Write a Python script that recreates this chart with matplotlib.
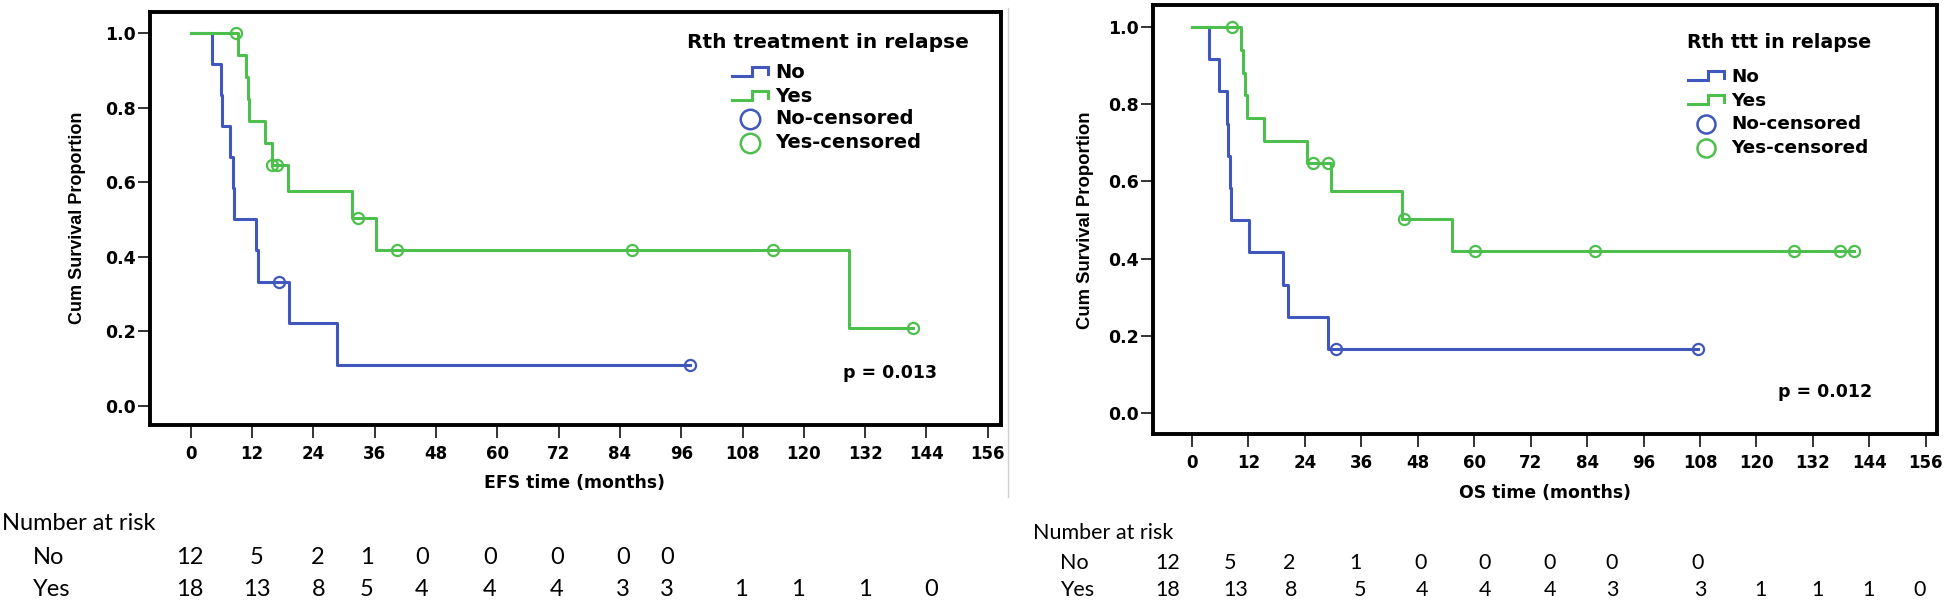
import matplotlib
matplotlib.use('Agg')
import matplotlib.pyplot as plt

# Kaplan-Meier steps (months, cumulative survival)
efs_no_t = [0, 4.1, 5.9, 6.0, 7.7, 8.2, 8.5, 12.7, 13.1, 19.3, 28.6, 97.7]
efs_no_s = [1.0, 0.917, 0.833, 0.75, 0.667, 0.583, 0.5, 0.417, 0.333, 0.222, 0.111, 0.111]
efs_no_cens_t = [17.3, 97.7]
efs_no_cens_s = [0.333, 0.111]

efs_yes_t = [0, 9.2, 10.8, 11.1, 11.3, 14.5, 15.8, 19.0, 31.5, 36.2, 128.8, 141.3]
efs_yes_s = [1.0, 0.941, 0.882, 0.824, 0.765, 0.706, 0.647, 0.575, 0.503, 0.419, 0.21, 0.21]
efs_yes_cens_t = [8.8, 15.9, 16.8, 32.8, 40.3, 86.3, 113.9, 141.3]
efs_yes_cens_s = [1.0, 0.647, 0.647, 0.503, 0.419, 0.419, 0.419, 0.21]

os_no_t = [0, 3.6, 5.7, 7.4, 7.7, 8.1, 8.2, 12.1, 19.3, 20.4, 28.9, 107.5]
os_no_s = [1.0, 0.917, 0.833, 0.75, 0.667, 0.583, 0.5, 0.417, 0.333, 0.25, 0.167, 0.167]
os_no_cens_t = [30.6, 107.5]
os_no_cens_s = [0.167, 0.167]

os_yes_t = [0, 10.4, 10.8, 11.2, 11.6, 15.3, 24.5, 29.5, 44.7, 55.3, 140.7]
os_yes_s = [1.0, 0.941, 0.882, 0.824, 0.765, 0.706, 0.647, 0.575, 0.503, 0.419, 0.419]
os_yes_cens_t = [8.5, 25.8, 29.0, 45.0, 60.1, 85.6, 128.1, 137.7, 140.7]
os_yes_cens_s = [1.0, 0.647, 0.647, 0.503, 0.419, 0.419, 0.419, 0.419, 0.419]

efs_risk_no = [12, 5, 2, 1, 0, 0, 0, 0, 0]
efs_risk_yes = [18, 13, 8, 5, 4, 4, 4, 3, 3, 1, 1, 1, 0]
os_risk_no = [12, 5, 2, 1, 0, 0, 0, 0, 0]
os_risk_yes = [18, 13, 8, 5, 4, 4, 4, 3, 3, 1, 1, 1, 0]

x_ticks = list(range(0, 157, 12))
y_ticks = [0.0, 0.2, 0.4, 0.6, 0.8, 1.0]
p_efs = 'p = 0.013'
p_os = 'p = 0.012'

# layout (pixels of the 1946x604 picture)
W, H = 1946, 604
risk_x_left_no = [190, 257, 318, 367, 422, 490, 557, 623, 667]
risk_x_left_yes = [190, 257, 319, 367, 422, 490, 557, 623, 667, 741, 798, 865, 931]
risk_x_right_no = [1168, 1230, 1289, 1355, 1421, 1485, 1550, 1612, 1698]
risk_x_right_yes = [1168, 1236, 1291, 1360, 1422, 1485, 1550, 1612, 1700, 1760, 1817, 1868, 1920]

blue = '#4057bd'
green = '#4dbf4d'
bold = dict(family='DejaVu Sans', weight='bold')


def rect(l, t, r, b):
    return [l / W, 1 - b / H, (r - l) / W, (b - t) / H]


fig = plt.figure(figsize=(W / 100, H / 100), dpi=100)
ax1 = fig.add_axes(rect(150, 12, 1001, 425))
ax2 = fig.add_axes(rect(1153, 5, 1937, 434))


def km_panel(ax, curves, xlim, ylim):
    for t, s, ct, cs, c in curves:
        ax.step(t, s, where='post', color=c, lw=2.2, zorder=3)
        ax.plot(ct, cs, 'o', mfc='none', mec=c, ms=8, mew=1.6, zorder=4)
    ax.set_xlim(*xlim)
    ax.set_ylim(*ylim)
    ax.set_xticks(x_ticks)
    ax.set_yticks(y_ticks)
    ax.set_yticklabels(['%.1f' % v for v in y_ticks], fontsize=12.5, **bold)
    ax.set_xticklabels([str(v) for v in x_ticks], fontsize=12, **bold)
    ax.tick_params(axis='x', length=9.5, width=1.4, pad=5, color='#333333')
    ax.tick_params(axis='y', length=8.5, width=1.4, pad=1.5, color='#333333')
    for sp in ax.spines.values():
        sp.set_linewidth(2.8)
        sp.set_color('black')


km_panel(ax1, [(efs_no_t, efs_no_s, efs_no_cens_t, efs_no_cens_s, blue),
               (efs_yes_t, efs_yes_s, efs_yes_cens_t, efs_yes_cens_s, green)],
         (-8.0, 158.6), (-0.051, 1.056))
km_panel(ax2, [(os_no_t, os_no_s, os_no_cens_t, os_no_cens_s, blue),
               (os_yes_t, os_yes_s, os_yes_cens_t, os_yes_cens_s, green)],
         (-8.3, 158.4), (-0.054, 1.057))

# overlay in picture pixels for labels, legends and risk table
ov = fig.add_axes([0, 0, 1, 1], zorder=10)
ov.set_xlim(0, W)
ov.set_ylim(H, 0)
ov.axis('off')
ov.patch.set_alpha(0)

ov.text(78, 218, 'Cum Survival Proportion', rotation=90, ha='center', va='center',
        family='Liberation Sans', weight='bold', fontsize=13)
ov.text(1086, 220, 'Cum Survival Proportion', rotation=90, ha='center', va='center',
        family='Liberation Sans', weight='bold', fontsize=13.3)
ov.text(575, 483, 'EFS time (months)', ha='center', va='center', fontsize=12.4, **bold)
ov.text(1545, 493, 'OS time (months)', ha='center', va='center', fontsize=12.4, **bold)
ov.text(890, 373, p_efs, ha='center', va='center', fontsize=12.5, **bold)
ov.text(1825, 392, p_os, ha='center', va='center', fontsize=12.5, **bold)

ov.plot([1008, 1008], [8, 497], color='#cfcfcf', lw=1)


def legend(x0, title, tx, ty, rows_y, size, ms):
    ov.text(tx, ty, title, ha='center', va='center', fontsize=size + 0.5, **bold)
    xi0, xi1, xi2 = x0, x0 + 20, x0 + 36
    for (lab, c, kind), y in zip([('No', blue, 'step'), ('Yes', green, 'step'),
                                   ('No-censored', blue, 'o'), ('Yes-censored', green, 'o')],
                                  rows_y):
        if kind == 'step':
            ov.plot([xi0, xi1, xi1, xi2, xi2], [y + 3, y + 3, y - 6, y - 6, y + 1],
                    color=c, lw=2.2, solid_joinstyle='miter')
        else:
            ov.plot([x0 + 18], [y], 'o', mfc='none', mec=c, ms=ms, mew=1.8)
        ov.text(x0 + 43, y, lab, ha='left', va='center', fontsize=size, **bold)


legend(732, 'Rth treatment in relapse', 828, 42, [73, 97, 119, 143], 14, 14)
legend(1688, 'Rth ttt in relapse', 1779, 43, [77, 101, 124, 148], 13.2, 13)


def risk_table(x_title, x_lab, ys, xs_no, xs_yes, no, yes, size):
    ov.text(x_title, ys[0], 'Number at risk', ha='left', va='center', family='Lato', fontsize=size)
    ov.text(x_lab, ys[1], 'No', ha='left', va='center', family='Lato', fontsize=size)
    ov.text(x_lab, ys[2], 'Yes', ha='left', va='center', family='Lato', fontsize=size)
    for x, v in zip(xs_no, no):
        ov.text(x, ys[1], str(v), ha='center', va='center', family='Lato', fontsize=size)
    for x, v in zip(xs_yes, yes):
        ov.text(x, ys[2], str(v), ha='center', va='center', family='Lato', fontsize=size)


risk_table(2, 33, [523, 557, 589], risk_x_left_no, risk_x_left_yes,
           efs_risk_no, efs_risk_yes, 17)
risk_table(1033, 1060, [533, 563, 590], risk_x_right_no, risk_x_right_yes,
           os_risk_no, os_risk_yes, 15.5)

fig.savefig('out.png', dpi=100)
